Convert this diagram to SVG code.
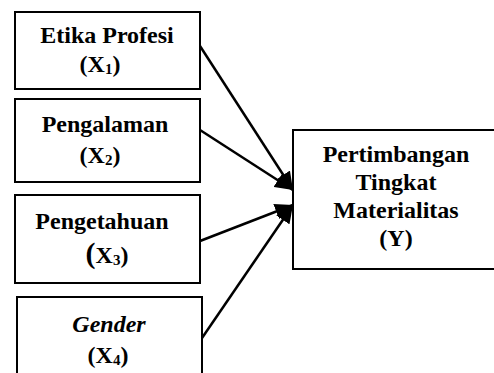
<svg xmlns="http://www.w3.org/2000/svg" width="494" height="373" viewBox="0 0 494 373">
<style>
.box{fill:#fff;stroke:#000;stroke-width:2}
.t{font-family:'Liberation Serif','Times New Roman','DejaVu Serif',serif;font-weight:700;font-size:24px;fill:#000;text-anchor:middle}
.sub{font-size:15px}
.ln{stroke:#000;stroke-width:2.5;fill:none;marker-end:url(#ah)}
</style>
<defs>
<marker id="ah" markerUnits="userSpaceOnUse" markerWidth="18" markerHeight="16" refX="18" refY="8" orient="auto">
<path d="M0,0 L18,8 L0,16 z" fill="#000"/>
</marker>
</defs>
<rect width="494" height="373" fill="#fff"/>
<g id="x1">
<rect class="box" x="15" y="12" width="185" height="77"/>
<text class="t" x="107" y="43">Etika Profesi</text>
<text class="t" x="100" y="72">(X<tspan class="sub" dy="2">1</tspan><tspan dy="-2">)</tspan></text>
</g>
<g id="x2">
<rect class="box" x="15" y="99" width="185" height="83"/>
<text class="t" x="105" y="132">Pengalaman</text>
<text class="t" x="100" y="163">(X<tspan class="sub" dy="2">2</tspan><tspan dy="-2">)</tspan></text>
</g>
<g id="x3">
<rect class="box" x="15" y="195" width="185" height="88"/>
<text class="t" x="102" y="229">Pengetahuan</text>
<text class="t" x="107" y="263"><tspan font-size="30">(</tspan>X<tspan class="sub" dy="2">3</tspan><tspan dy="-2">)</tspan></text>
</g>
<g id="x4">
<rect class="box" x="17" y="297" width="185" height="100"/>
<text class="t" x="109" y="332" font-style="italic">Gender</text>
<text class="t" x="108" y="363">(X<tspan class="sub" dy="2">4</tspan><tspan dy="-2">)</tspan></text>
</g>
<g id="y">
<rect class="box" x="293" y="130" width="220" height="139"/>
<text class="t" x="396" y="162">Pertimbangan</text>
<text class="t" x="396" y="190">Tingkat</text>
<text class="t" x="396" y="218">Materialitas</text>
<text class="t" x="396" y="246">(Y)</text>
</g>
<g id="connectors">
<line class="ln" x1="200" y1="46" x2="293" y2="190"/>
<line class="ln" x1="200" y1="130" x2="293" y2="190"/>
<line class="ln" x1="200" y1="241" x2="293" y2="205"/>
<line class="ln" x1="202" y1="338" x2="293" y2="205"/>
</g>
</svg>
